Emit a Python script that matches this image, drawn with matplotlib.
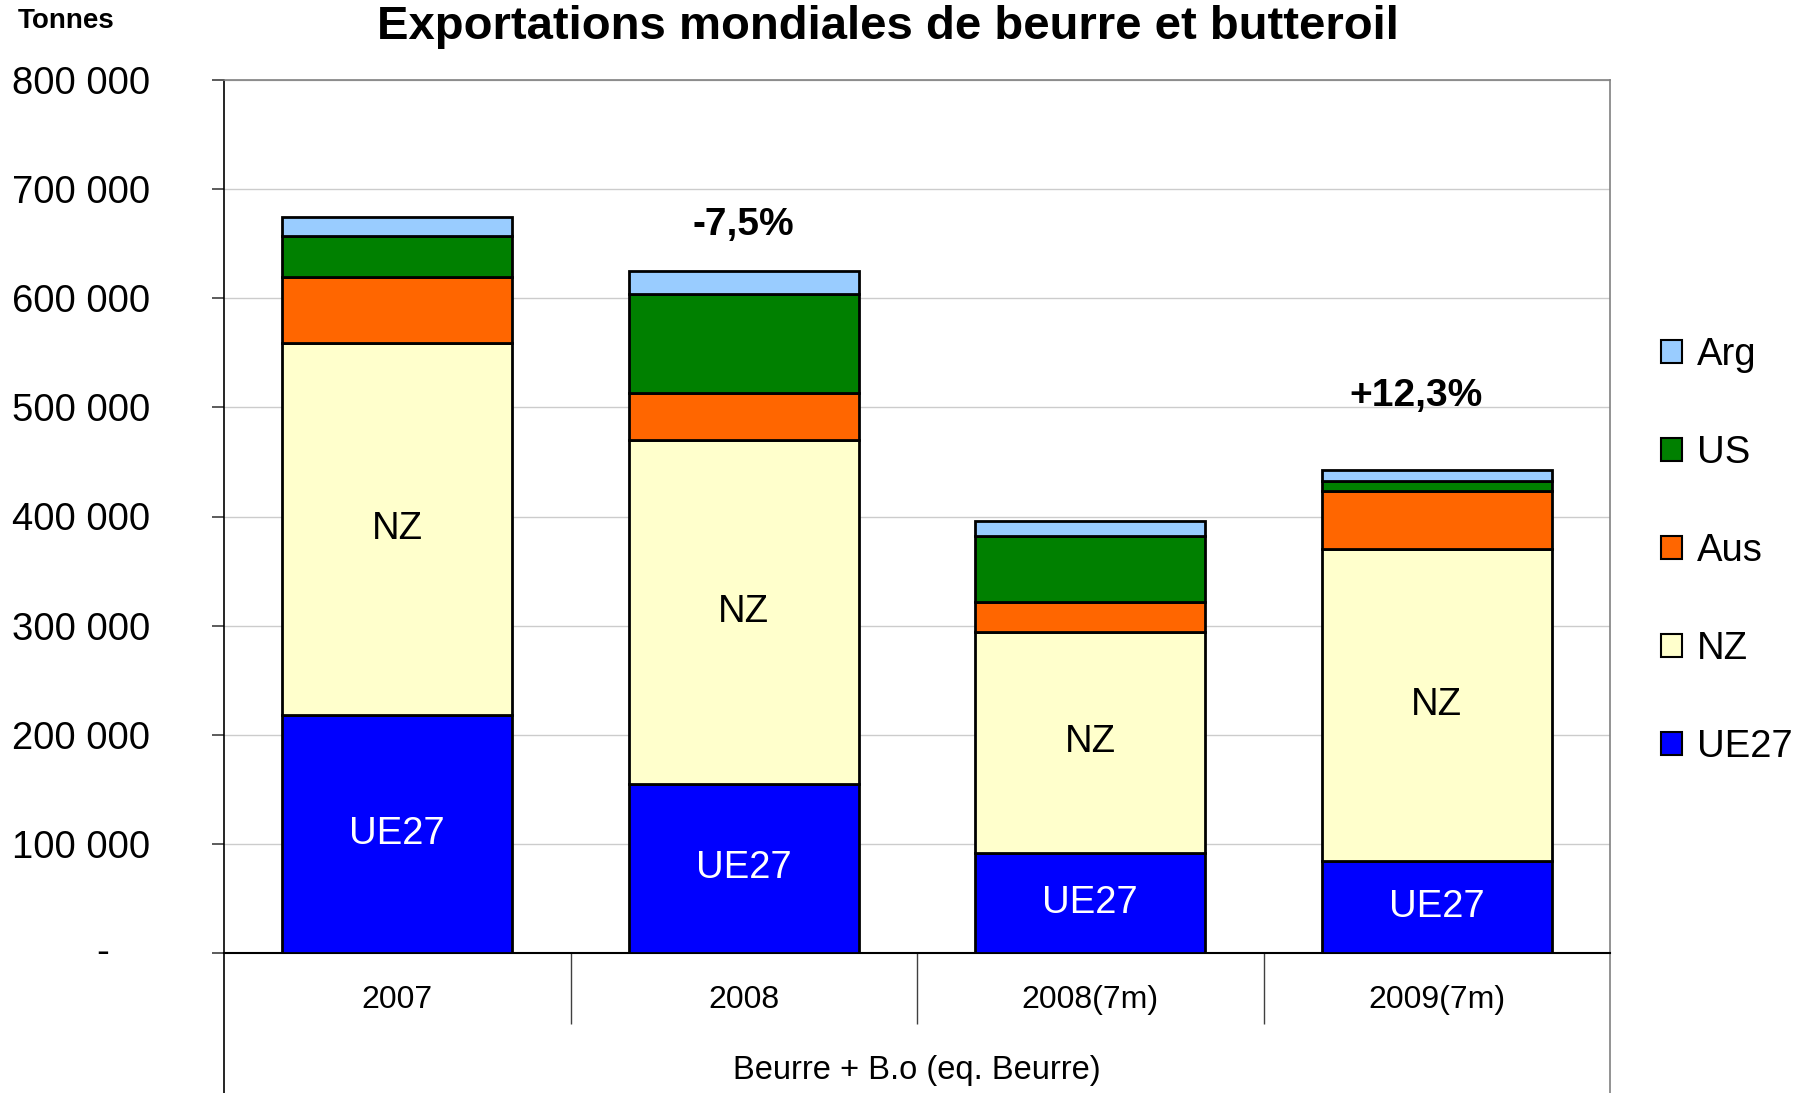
import matplotlib
matplotlib.use("Agg")
import matplotlib.pyplot as plt
from matplotlib.patches import Patch
from matplotlib.lines import Line2D
import numpy as np

plt.rcParams['font.family'] = ['Liberation Sans', 'DejaVu Sans']

categories = ["2007", "2008", "2008(7m)", "2009(7m)"]
ue27 = [218500, 155000, 91800, 84400]
nz = [340500, 314700, 202700, 286100]
aus = [60500, 43300, 27500, 52700]
us = [38000, 90700, 60000, 9500]
arg = [16900, 21100, 13800, 9500]

series_names = ["UE27", "NZ", "Aus", "US", "Arg"]
series_vals = [ue27, nz, aus, us, arg]
colors = ["#0000FF", "#FFFFCC", "#FF6600", "#008000", "#99CCFF"]

yticks = [0, 100000, 200000, 300000, 400000, 500000, 600000, 700000, 800000]
ytick_labels = ["", "100 000", "200 000", "300 000", "400 000", "500 000",
                "600 000", "700 000", "800 000"]
annotations = [(1, 667000, "-7,5%"), (2.94, 510800, "+12,3%")]

W, H = 1805, 1093
fig = plt.figure(figsize=(W / 100, H / 100), dpi=100)
ax = fig.add_axes([224 / W, 1 - 953 / H, (1610 - 224) / W, (953 - 80) / H])

x = np.arange(len(categories))
bottom = np.zeros(len(categories))
for name, vals, col in zip(series_names, series_vals, colors):
    ax.bar(x, vals, width=0.665, bottom=bottom, color=col, edgecolor="black",
           linewidth=2.0, label=name, zorder=3)
    if name in ("UE27", "NZ"):
        for xi, b, v in zip(x, bottom, vals):
            ax.text(xi, b + v / 2, name, ha="center", va="center", fontsize=27.5,
                    color="white" if name == "UE27" else "black", zorder=4)
    bottom = bottom + np.array(vals)

for xa, ya, t in annotations:
    ax.text(xa, ya, t, ha="center", va="center", fontsize=28, fontweight="bold")

ax.set_xlim(-0.5, 3.5)
ax.set_ylim(0, 800000)
ax.set_yticks(yticks)
ax.set_yticklabels(ytick_labels, fontsize=27.5)
ax.text(-0.849, 0, "-", transform=ax.transData, fontsize=27.5, ha="center", va="center",
        clip_on=False)
ax.tick_params(axis="y", direction="out", length=9, width=1.2, color="#404040", pad=44)
ax.set_xticks(x)
ax.set_xticklabels(categories, fontsize=23)
ax.tick_params(axis="x", length=0, pad=23)
ax.set_xticks([0.5, 1.5, 2.5], minor=True)
ax.tick_params(axis="x", which="minor", length=51, width=1.0, color="#404040", direction="out")

ax.yaxis.grid(True, color="#cccccc", linewidth=1.0, zorder=0)
ax.set_axisbelow(True)
for s in ("top", "right"):
    ax.spines[s].set_color("#808080")
    ax.spines[s].set_linewidth(1.2)
ax.spines["left"].set_color("black")
ax.spines["left"].set_linewidth(1.2)
ax.spines["bottom"].set_color("black")
ax.spines["bottom"].set_linewidth(1.5)

# extend frame lines down through category area
for xf, c in ((0, "black"), (1, "#808080")):
    ax.add_line(Line2D([xf, xf], [0, -(1093 - 953) / (953 - 80)], transform=ax.transAxes,
                       color=c, linewidth=1.2, clip_on=False))

ax.text(0.5, -(1071 - 953) / (953 - 80), "Beurre + B.o (eq. Beurre)", transform=ax.transAxes,
        ha="center", va="center", fontsize=23.5)

fig.text(888 / W, 1 - 27 / H, "Exportations mondiales de beurre et butteroil",
         ha="center", va="center", fontsize=34, fontweight="bold")
fig.text(18 / W, 1 - 21 / H, "Tonnes", ha="left", va="center", fontsize=20, fontweight="bold")

handles = [Patch(facecolor=c, edgecolor="black", linewidth=1.5)
           for c in colors][::-1]
labels = series_names[::-1]
leg = fig.legend(handles, labels, loc="center left", bbox_to_anchor=(1661 / W, 1 - 551 / H),
                 frameon=False, fontsize=27.5, handlelength=0.55, handleheight=0.55,
                 handletextpad=0.4, labelspacing=1.62, borderpad=0, borderaxespad=0)

fig.savefig("out.png", dpi=100)
